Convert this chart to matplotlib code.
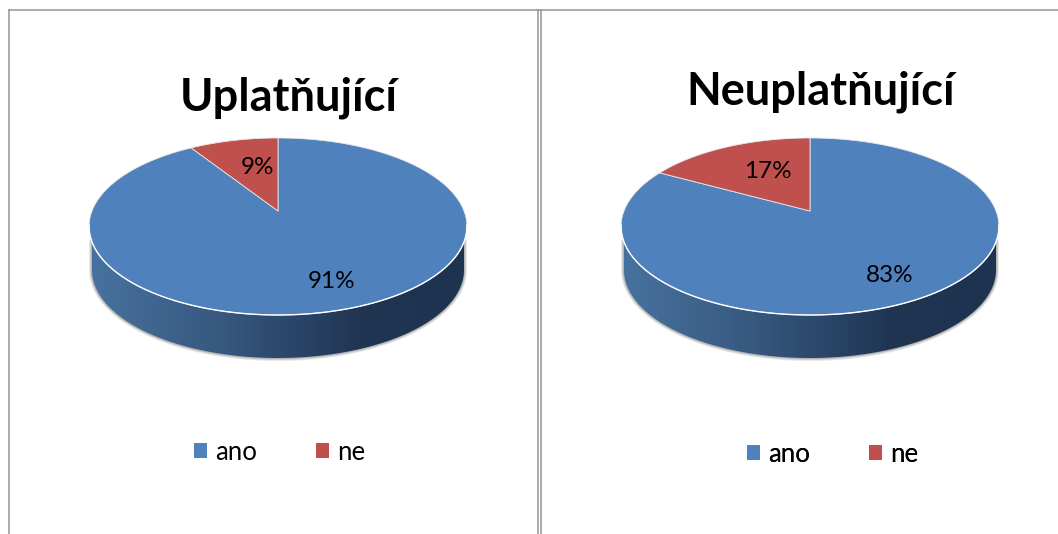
import numpy as np
import matplotlib
matplotlib.use("Agg")
import matplotlib.pyplot as plt
from matplotlib.colors import LinearSegmentedColormap
from matplotlib.patches import Patch, Polygon

plt.rcParams['font.family'] = ['Lato', 'DejaVu Sans']

# chart data
titles = ['Uplatňující', 'Neuplatňující']
categories = ['ano', 'ne']
values_left = [91, 9]
values_right = [83, 17]
colors = ['#4f81bd', '#c0504d']


# map a pie angle (clockwise from the top) to pixels, with some perspective
def project(cx, cy, angle):
    k = 0.175
    u = np.sin(angle)
    v = np.cos(angle)
    d = 1 + k * v
    return cx + 186 * u / d, cy - 85.8 * v / d


def draw_side(ax, cx):
    # soft shadow under the disc
    t = np.linspace(0, np.pi, 200)
    for grow, alpha in [(3.0, 0.18), (2.0, 0.25), (1.0, 0.35)]:
        xs = cx + (186 + grow) * np.cos(t)
        ys = 270 + (88 + grow) * np.sin(t)
        pts = np.column_stack([np.r_[cx - 186 - grow, xs[::-1], cx + 186 + grow],
                               np.r_[240, ys[::-1], 240]])
        ax.add_patch(Polygon(pts, fc='#808080', ec='none', alpha=alpha, zorder=1))

    # rim with left to right shading
    xs = cx + 186 * np.cos(t)
    ys = 270 + 88 * np.sin(t)
    pts = np.column_stack([np.r_[cx - 186, xs[::-1], cx + 186], np.r_[238, ys[::-1], 238]])
    clip = Polygon(pts, fc='none', ec='none', transform=ax.transData)
    ax.add_patch(clip)
    cmap = LinearSegmentedColormap.from_list('rim', [(0, '#47729f'), (0.35, '#37587f'),
                                                     (0.72, '#1f3552'), (1, '#1d3350')])
    im = ax.imshow(np.linspace(0, 1, 256).reshape(1, -1), cmap=cmap, aspect='auto',
                   extent=(cx - 187, cx + 187, 360, 236), zorder=2)
    im.set_clip_path(clip)


def draw_pie(ax, cx, title, title_pos, values, label_pos, legend_pos):
    draw_side(ax, cx)

    # slices start at the top, the first one runs clockwise
    cy = 211
    start = 0.0
    total = sum(values)
    for val, col in zip(values, colors):
        end = start + 2 * np.pi * val / total
        x, y = project(cx, cy, np.linspace(start, end, 300))
        pts = np.column_stack([np.r_[cx, x], np.r_[cy, y]])
        ax.add_patch(Polygon(pts, fc=col, ec='#e8e8e8', lw=0.6, zorder=3, joinstyle='round'))
        start = end

    # white front edge of the top face
    x, y = project(cx, cy, np.linspace(np.pi * 0.55, np.pi * 1.45, 200))
    ax.plot(x, y, color='white', lw=1.0, zorder=4)

    for val, pos in zip(values, label_pos):
        ax.text(pos[0], pos[1], f'{val}%', fontsize=17.5, color='black',
                ha='center', va='center', zorder=5)

    ax.text(title_pos[0], title_pos[1], title, fontsize=32.5, fontweight='bold',
            color='black', ha='center', va='center', zorder=5)

    handles = [Patch(fc=c, ec='none', label=n) for c, n in zip(colors, categories)]
    leg = ax.legend(handles=handles, ncol=2, loc='center', bbox_to_anchor=legend_pos,
                    bbox_transform=ax.transData, frameon=False, fontsize=18.5,
                    handlelength=0.52, handleheight=0.52, handletextpad=0.31,
                    columnspacing=2.3, borderpad=0, borderaxespad=0)
    ax.add_artist(leg)


fig = plt.figure(figsize=(10.58, 5.34), dpi=100)
ax = fig.add_axes([0, 0, 1, 1])

draw_pie(ax, 278, titles[0], (289, 98), values_left, [(332, 282), (257, 168)], (279.5, 452))
draw_pie(ax, 810, titles[1], (821, 92), values_right, [(890, 276), (768, 171)], (832.5, 454))

# table lines around the two charts
line = dict(color='#959595', lw=1.1, zorder=6)
ax.plot([8.5, 1058], [9.5, 9.5], **line)
ax.plot([8.5, 8.5], [9.5, 534], **line)
ax.plot([537.5, 537.5], [9.5, 534], **line)
ax.plot([541, 541], [9.5, 534], **line)

ax.set_xlim(0, 1058)
ax.set_ylim(534, 0)
ax.axis('off')

fig.savefig('out.png', dpi=100)
